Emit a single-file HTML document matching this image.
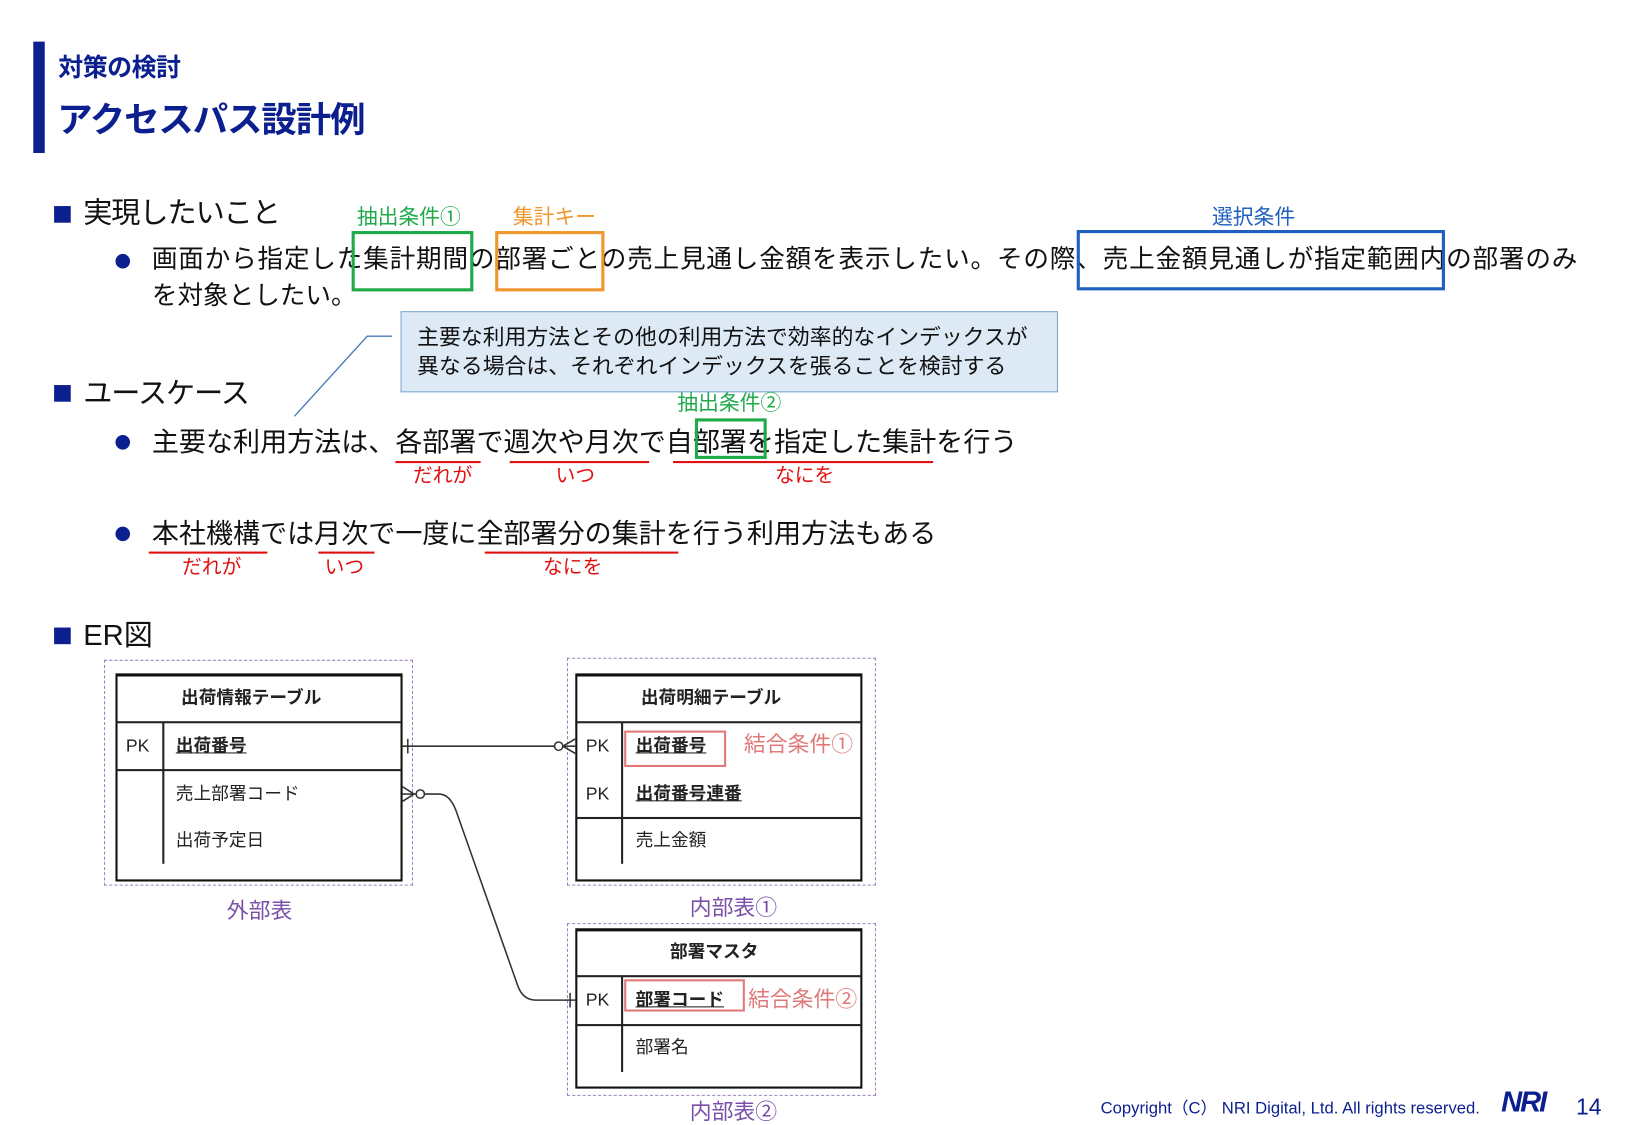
<!DOCTYPE html>
<html><head><meta charset="utf-8"><style>
html,body{margin:0;padding:0;background:#fff;width:1625px;height:1125px;overflow:hidden}
#w{position:absolute;left:0;top:0;width:1562px;height:1081px;transform:scale(1.0403,1.0407);transform-origin:0 0;font-family:"Liberation Sans","Noto Sans CJK JP",sans-serif;color:#111}
.t{position:absolute;white-space:nowrap;line-height:1}
.b{position:absolute;box-sizing:border-box}
.sq{position:absolute;width:16px;height:16px;background:#0b1f8f}
.dot{position:absolute;width:14px;height:14px;border-radius:50%;background:#0b1f8f}
.ul{position:absolute;height:2px;background:#e01010}
.red{color:#e01010;font-size:19px}
.tb{position:absolute;box-sizing:border-box;border:2px solid #111;border-top-width:3px;background:#fff}
.hl{position:absolute;height:2px;background:#222}
.vl{position:absolute;width:2px;background:#222}
.er{font-size:17px;color:#222}
.pk{font-size:17px;color:#222}
.u{text-decoration:underline;font-weight:bold}
.dash{position:absolute;box-sizing:border-box;border:1.5px dashed #a080c0}
.pur{color:#7a4fa8;font-size:21px}
.pink{color:#e07a7a;font-size:21px}
</style></head><body><div id="w">
<div class="b" style="left:32px;top:40px;width:11px;height:107px;background:#0b1f8f"></div>
<div class="t" style="left:56px;top:54px;font-size:24px;font-weight:bold;color:#0b1f8f;letter-spacing:-0.5px">対策の検討</div>
<div class="t" style="left:55px;top:99px;font-size:34px;font-weight:bold;color:#0b1f8f;letter-spacing:-1px">アクセスパス設計例</div>

<div class="sq" style="left:52px;top:198px"></div>
<div class="t" style="left:80px;top:191px;font-size:28px;letter-spacing:-1px">実現したいこと</div>
<div class="t" style="left:343px;top:199px;font-size:20px;color:#1faa4a">抽出条件①</div>
<div class="t" style="left:493px;top:199px;font-size:20px;color:#f0962e">集計キー</div>
<div class="t" style="left:1165px;top:199px;font-size:20px;color:#1f5fbf">選択条件</div>
<div class="dot" style="left:111px;top:244px"></div>
<div class="t" style="left:146px;top:238px;font-size:24.6px;letter-spacing:0.8px">画面から指定した集計期間の部署ごとの売上見通し金額を表示したい。その際、売上金額見通しが指定範囲内の部署のみ</div>
<div class="t" style="left:146px;top:273px;font-size:24.6px">を対象としたい。</div>
<div class="b" style="left:338px;top:222px;width:117px;height:58px;border:3px solid #1faa4a"></div>
<div class="b" style="left:476px;top:222px;width:105px;height:58px;border:3px solid #f0962e"></div>
<div class="b" style="left:1035px;top:221px;width:354px;height:58px;border:3px solid #1f5fbf"></div>

<div class="b" style="left:385px;top:299px;width:632px;height:78px;background:#ddeaf6;border:1px solid #7fa5cf"></div>
<div class="t" style="left:401px;top:314px;font-size:21px">主要な利用方法とその他の利用方法で効率的なインデックスが</div>
<div class="t" style="left:401px;top:342px;font-size:21px">異なる場合は、それぞれインデックスを張ることを検討する</div>
<svg style="position:absolute;left:0;top:0" width="1562" height="1081">
<polyline points="283,400 353,323 377,323" fill="none" stroke="#4a78b8" stroke-width="1.3"/>
</svg>

<div class="sq" style="left:52px;top:370px"></div>
<div class="t" style="left:80px;top:364px;font-size:28px;letter-spacing:-1px">ユースケース</div>
<div class="t" style="left:651px;top:378px;font-size:20px;color:#1faa4a">抽出条件②</div>
<div class="dot" style="left:111px;top:418px"></div>
<div class="t" style="left:146px;top:412px;font-size:26px">主要な利用方法は、各部署で週次や月次で自部署を指定した集計を行う</div>
<div class="b" style="left:668px;top:402px;width:69px;height:39px;border:3px solid #1faa4a"></div>
<div class="ul" style="left:380px;top:443px;width:82px"></div>
<div class="ul" style="left:490px;top:443px;width:134px"></div>
<div class="ul" style="left:647px;top:443px;width:250px"></div>
<div class="t red" style="left:397px;top:448px">だれが</div>
<div class="t red" style="left:534px;top:448px">いつ</div>
<div class="t red" style="left:745px;top:448px">なにを</div>

<div class="dot" style="left:111px;top:506px"></div>
<div class="t" style="left:146px;top:500px;font-size:26px">本社機構では月次で一度に全部署分の集計を行う利用方法もある</div>
<div class="ul" style="left:143px;top:530px;width:114px"></div>
<div class="ul" style="left:306px;top:530px;width:54px"></div>
<div class="ul" style="left:466px;top:530px;width:186px"></div>
<div class="t red" style="left:175px;top:536px">だれが</div>
<div class="t red" style="left:312px;top:536px">いつ</div>
<div class="t red" style="left:522px;top:536px">なにを</div>

<div class="sq" style="left:52px;top:603px"></div>
<div class="t" style="left:80px;top:597px;font-size:28px">ER図</div>

<!-- table 1 -->
<div class="dash" style="left:100px;top:634px;width:297px;height:217px"></div>
<div class="tb" style="left:111px;top:647px;width:276px;height:200px"></div>
<div class="hl" style="left:111px;top:693px;width:276px"></div>
<div class="hl" style="left:111px;top:739px;width:276px"></div>
<div class="vl" style="left:156px;top:694px;height:136px"></div>
<div class="t er" style="left:174px;top:662px;font-weight:bold">出荷情報テーブル</div>
<div class="t pk" style="left:121px;top:708px">PK</div>
<div class="t er u" style="left:169px;top:708px">出荷番号</div>
<div class="t er" style="left:169px;top:754px">売上部署コード</div>
<div class="t er" style="left:169px;top:799px">出荷予定日</div>
<div class="t pur" style="left:218px;top:865px">外部表</div>

<!-- table 2 -->
<div class="dash" style="left:545px;top:632px;width:297px;height:219px"></div>
<div class="tb" style="left:553px;top:647px;width:276px;height:200px"></div>
<div class="hl" style="left:553px;top:693px;width:276px"></div>
<div class="hl" style="left:553px;top:785px;width:276px"></div>
<div class="vl" style="left:597px;top:694px;height:136px"></div>
<div class="t er" style="left:616px;top:662px;font-weight:bold">出荷明細テーブル</div>
<div class="t pk" style="left:563px;top:708px">PK</div>
<div class="t er u" style="left:611px;top:708px">出荷番号</div>
<div class="b" style="left:600px;top:702px;width:98px;height:35px;border:2px solid #e07a7a"></div>
<div class="t pink" style="left:715px;top:705px">結合条件①</div>
<div class="t pk" style="left:563px;top:754px">PK</div>
<div class="t er u" style="left:611px;top:754px">出荷番号連番</div>
<div class="t er" style="left:611px;top:799px">売上金額</div>
<div class="t pur" style="left:663px;top:862px">内部表①</div>

<!-- table 3 -->
<div class="dash" style="left:545px;top:887px;width:297px;height:166px"></div>
<div class="tb" style="left:553px;top:892px;width:276px;height:154px"></div>
<div class="hl" style="left:553px;top:937px;width:276px"></div>
<div class="hl" style="left:553px;top:984px;width:276px"></div>
<div class="vl" style="left:597px;top:938px;height:92px"></div>
<div class="t er" style="left:644px;top:906px;font-weight:bold">部署マスタ</div>
<div class="t pk" style="left:563px;top:952px">PK</div>
<div class="t er u" style="left:611px;top:952px">部署コード</div>
<div class="b" style="left:600px;top:941px;width:116px;height:31px;border:2px solid #e07a7a"></div>
<div class="t pink" style="left:719px;top:950px">結合条件②</div>
<div class="t er" style="left:611px;top:998px">部署名</div>
<div class="t pur" style="left:663px;top:1058px">内部表②</div>

<svg style="position:absolute;left:0;top:0" width="1562" height="1081">
<g fill="none" stroke="#333" stroke-width="1.5">
<line x1="387" y1="717" x2="534" y2="717"/>
<line x1="392" y1="710" x2="392" y2="724"/>
<circle cx="537" cy="717" r="4"/>
<line x1="541" y1="717" x2="553" y2="710"/>
<line x1="541" y1="717" x2="553" y2="717"/>
<line x1="541" y1="717" x2="553" y2="724"/>
<line x1="387" y1="756" x2="398" y2="763"/>
<line x1="387" y1="770" x2="398" y2="763"/>
<line x1="387" y1="763" x2="400" y2="763"/>
<circle cx="404" cy="763" r="4"/>
<path d="M408,763 L422,763 Q432,763 438,778 L498,948 Q503,961 515,961 L553,961"/>
<line x1="548" y1="954" x2="548" y2="968"/>
</g>
</svg>

<div class="t" style="left:1058px;top:1058px;font-size:16px;color:#0b1f8f">Copyright（C） NRI Digital, Ltd. All rights reserved.</div>
<div class="t" style="left:1443px;top:1045px;font-size:28px;font-weight:bold;font-style:italic;color:#0b1f8f;letter-spacing:-2px">NRI</div>
<div class="t" style="left:1515px;top:1053px;font-size:22px;color:#0b1f8f">14</div>
</div></body></html>
